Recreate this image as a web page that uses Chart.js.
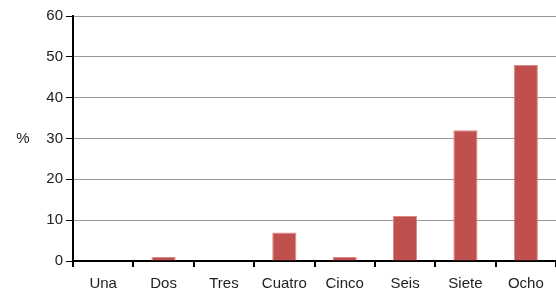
<!DOCTYPE html>
<html>
<head>
<meta charset="utf-8">
<script src="https://cdn.jsdelivr.net/npm/chart.js@4"></script>
<style>
  html, body { margin: 0; padding: 0; background: #fff; }
  #wrap { width: 556px; height: 293px; }
</style>
</head>
<body>
<div id="wrap"><canvas id="chart" width="556" height="293"></canvas></div>
<script>
const categories = ["Una", "Dos", "Tres", "Cuatro", "Cinco", "Seis", "Siete", "Ocho"];
const values = [0, 1, 0, 7, 1, 11, 32, 48];
const yTicks = [0, 10, 20, 30, 40, 50, 60];
const yTitle = "%";

// draws the "%" label horizontally, left of the y axis
const percentLabel = {
  id: "percentLabel",
  afterDraw(chart){
    const { ctx, chartArea } = chart;
    ctx.save();
    ctx.font = "15px 'Liberation Sans', Arial, sans-serif";
    ctx.fillStyle = "#222";
    ctx.textAlign = "center";
    ctx.textBaseline = "middle";
    ctx.fillText(yTitle, 23, (chartArea.top + chartArea.bottom) / 2);
    ctx.restore();
  }
};

const font = { family: "'Liberation Sans', Arial, sans-serif", size: 15 };

new Chart(document.getElementById("chart"), {
  type: "bar",
  data: {
    labels: categories,
    datasets: [{
      data: values,
      backgroundColor: "#c0504d",
      borderColor: "#d98a88",
      borderWidth: 1,
      barPercentage: 0.8,
      categoryPercentage: 0.5
    }]
  },
  options: {
    responsive: false,
    animation: false,
    layout: { padding: { top: 16, right: 0, left: 0, bottom: 0 } },
    plugins: { legend: { display: false }, tooltip: { enabled: false } },
    scales: {
      x: {
        offset: true,
        grid: { offset: true, drawOnChartArea: false, drawTicks: true, tickLength: 6, color: "#000", lineWidth: 2 },
        border: { color: "#000", width: 2 },
        ticks: { color: "#222", font, padding: 8, maxRotation: 0 },
        afterFit(scale){ scale.height = 32; }
      },
      y: {
        min: 0, max: 60,
        afterBuildTicks(scale){ scale.ticks = yTicks.map(v => ({ value: v })); },
        grid: { color: "#999", lineWidth: 1, drawTicks: true, tickLength: 7, tickColor: "#000" },
        border: { color: "#000", width: 2 },
        ticks: { color: "#222", font, padding: 3 },
        afterFit(scale){ scale.width = 73; }
      }
    }
  },
  plugins: [percentLabel]
});
</script>
</body>
</html>
